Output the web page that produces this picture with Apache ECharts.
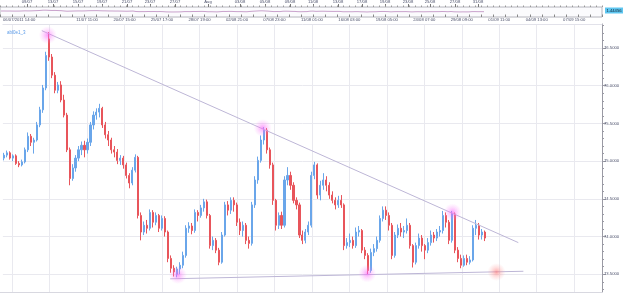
<!DOCTYPE html>
<html>
<head>
<meta charset="utf-8">
<script src="https://cdn.jsdelivr.net/npm/echarts@6.0.0/dist/echarts.min.js"></script>
<style>
  html, body { margin: 0; padding: 0; background: #fff; }
  #chart { width: 625px; height: 295px; }
</style>
</head>
<body>
<div id="chart"></div>
<script>
// candles: [open, close, low, high]
var candles = [
  [75.04,75.08,75.01,75.11],[75.08,75.11,75.05,75.14],[75.11,75.04,75.02,75.13],[75.04,75.07,75.00,75.09],
  [75.07,74.97,74.95,75.09],[74.97,74.95,74.92,75.00],[74.95,74.99,74.93,75.02],[74.99,75.15,74.97,75.18],
  [75.15,75.33,75.12,75.38],[75.33,75.25,75.20,75.36],[75.25,75.28,75.10,75.31],[75.28,75.48,75.26,75.52],
  [75.48,75.68,75.45,75.72],[75.68,75.97,75.64,76.01],[75.97,76.40,75.94,76.45],[76.62,76.38,76.33,76.71],
  [76.38,76.14,76.10,76.42],[76.14,75.94,75.90,76.18],[75.94,76.01,75.90,76.05],[76.01,75.81,75.78,76.06],
  [75.81,75.61,75.58,75.88],[75.61,75.15,75.12,75.64],[75.15,74.77,74.68,75.18],[74.77,74.91,74.74,74.96],
  [74.91,75.04,74.86,75.08],[75.04,75.15,75.00,75.20],[75.15,75.21,75.08,75.26],[75.21,75.15,75.05,75.27],
  [75.15,75.25,75.10,75.30],[75.25,75.48,75.20,75.52],[75.48,75.61,75.42,75.66],[75.61,75.65,75.55,75.70],
  [75.65,75.70,75.58,75.76],[75.70,75.48,75.44,75.72],[75.48,75.35,75.30,75.52],[75.35,75.28,75.20,75.40],
  [75.28,75.15,75.10,75.31],[75.15,75.12,75.05,75.20],[75.12,75.01,74.96,75.16],[75.01,75.04,74.95,75.08],
  [75.04,74.95,74.90,75.07],[74.95,74.81,74.77,74.98],[74.81,74.71,74.64,74.84],[74.71,74.88,74.68,74.92],
  [74.88,75.05,74.85,75.09],[75.05,74.28,74.24,75.07],[74.28,74.06,73.95,74.32],[74.06,74.15,74.02,74.20],
  [74.15,74.11,74.04,74.22],[74.11,74.32,74.08,74.36],[74.32,74.19,74.12,74.35],[74.19,74.28,74.15,74.32],
  [74.28,74.11,74.06,74.30],[74.11,74.24,74.08,74.28],[74.24,74.06,74.00,74.27],[74.06,73.71,73.66,74.08],
  [73.71,73.58,73.52,73.75],[73.58,73.53,73.47,73.62],[73.50,73.57,73.46,73.60],[73.57,73.62,73.50,73.66],
  [73.62,73.75,73.58,73.80],[73.75,74.11,73.72,74.15],[74.11,74.14,74.05,74.19],[74.14,74.08,74.03,74.18],
  [74.08,74.32,74.05,74.36],[74.32,74.28,74.20,74.35],[74.28,74.38,74.25,74.42],[74.38,74.46,74.33,74.50],
  [74.46,74.28,74.24,74.49],[74.28,73.88,73.84,74.30],[73.88,73.95,73.82,74.00],[73.95,73.82,73.78,73.98],
  [73.82,73.66,73.62,73.85],[73.66,74.02,73.64,74.06],[74.02,74.42,74.00,74.46],[74.42,74.35,74.28,74.47],
  [74.35,74.48,74.30,74.52],[74.48,74.42,74.33,74.52],[74.42,74.19,74.14,74.45],[74.19,74.08,74.02,74.24],
  [74.08,74.15,74.00,74.20],[74.15,73.95,73.90,74.18],[73.95,73.91,73.84,74.00],[73.91,74.42,73.88,74.46],
  [74.42,74.75,74.38,74.80],[74.75,75.01,74.70,75.06],[75.01,75.28,74.98,75.34],[75.28,75.41,75.22,75.45],
  [75.41,75.15,75.10,75.44],[75.15,74.95,74.90,75.18],[74.95,74.48,74.42,74.98],[74.48,74.15,74.08,74.50],
  [74.15,74.28,74.10,74.32],[74.28,74.15,74.10,74.33],[74.15,74.75,74.12,74.80],[74.75,74.81,74.68,74.92],
  [74.81,74.68,74.62,74.86],[74.68,74.48,74.44,74.72],[74.48,74.42,74.36,74.52],[74.42,74.02,73.98,74.45],
  [74.02,73.95,73.90,74.08],[73.95,74.06,73.91,74.10],[74.06,74.15,74.02,74.20],[74.15,74.81,74.12,74.86],
  [74.81,74.95,74.76,74.99],[74.95,74.55,74.50,74.97],[74.55,74.68,74.48,74.74],[74.68,74.75,74.62,74.84],
  [74.75,74.68,74.60,74.80],[74.68,74.55,74.50,74.72],[74.55,74.48,74.44,74.60],[74.48,74.42,74.36,74.52],
  [74.42,74.48,74.38,74.54],[74.48,74.42,74.38,74.55],[74.42,73.88,73.82,74.44],[73.88,73.92,73.84,73.98],
  [73.92,73.95,73.86,74.04],[73.95,73.88,73.84,74.00],[73.88,74.06,73.85,74.12],[74.06,74.08,74.00,74.14],
  [74.08,73.82,73.78,74.10],[73.82,73.75,73.70,73.86],[73.75,73.55,73.50,73.78],[73.55,73.79,73.52,73.84],
  [73.79,73.84,73.74,73.90],[73.84,73.95,73.80,74.00],[73.95,74.24,73.92,74.28],[74.24,74.35,74.20,74.40],
  [74.35,74.28,74.22,74.40],[74.28,74.15,74.08,74.32],[74.15,73.75,73.70,74.18],[73.75,74.02,73.72,74.06],
  [74.02,74.11,73.98,74.16],[74.11,74.06,74.00,74.18],[74.06,74.08,73.98,74.14],[74.08,74.15,74.04,74.24],
  [74.15,73.88,73.84,74.18],[73.88,73.66,73.59,73.90],[73.66,73.88,73.63,73.92],[73.88,73.98,73.84,74.04],
  [73.98,73.88,73.80,74.02],[73.88,73.82,73.70,73.90],[73.82,73.92,73.78,73.98],[73.92,74.02,73.88,74.08],
  [74.02,73.98,73.92,74.06],[73.98,74.06,73.94,74.10],[74.06,74.08,74.00,74.14],[74.08,74.28,74.04,74.34],
  [74.28,74.19,74.12,74.32],[74.19,73.95,73.90,74.22],[73.95,74.30,73.92,74.34],[74.30,73.82,73.78,74.32],
  [73.82,73.71,73.66,73.86],[73.71,73.62,73.58,73.76],[73.62,73.71,73.60,73.75],[73.71,73.66,73.62,73.76],
  [73.66,73.69,73.63,73.74],[73.69,74.11,73.67,74.15],[74.11,74.15,74.02,74.22],[74.15,74.02,73.96,74.18],
  [74.02,74.06,73.96,74.10],[74.06,73.98,73.94,74.08]
];

// trend lines and pivots: [candle index, price]
var upperLine = [[12.7, 76.73], [172.3, 73.92]];
var lowerLine = [[55.7, 73.44], [174, 73.54]];
var pivots = [[14.7, 76.67], [86.7, 75.44], [58.3, 73.49], [121.7, 73.51], [150.3, 74.32]];
var lastPivot = [[165, 73.53]];

// tick labels
var xLabels = ['06/07/2011 14:00', '', '11/07 11:00', '20/07 15:00', '25/07 17:00', '28/07 19:00',
  '02/08 21:00', '07/08 23:00', '11/08 01:00', '16/08 03:00', '19/08 05:00', '24/08 07:00',
  '29/08 09:00', '01/09 11:00', '04/09 13:00', '07/09 15:00'];
var yTicks = [73.5, 74.0, 74.5, 75.0, 75.5, 76.0, 76.5];
var navDates = ['09/07', '13/07', '15/07', '19/07', '21/07', '23/07', '27/07', 'Aug', '03/08', '05/08',
  '09/08', '11/08', '13/08', '17/08', '19/08', '23/08', '25/08', '27/08', '31/08'];
var navDatePos = [27, 53, 78, 102, 127, 150, 175, 208, 240, 265, 290, 313, 338, 362, 385, 408, 430, 455, 478];

// layout: one grid step = 37.65px, first grid line at 9.3px, one candle = 3px
var STEP = 37.65, OFF = 9.3, SLOT = 3;
function toU(i) { return (1 + SLOT * i - OFF) / STEP; }
var xTickVals = xLabels.map(function (s, k) { return k; });
var yMinorVals = [];
for (var m = 733; m <= 768; m++) { if (m % 5 !== 0) yMinorVals.push(m / 10); }

var candleData = candles.map(function (c, i) { return [toU(i), c[0], c[1], c[2], c[3]]; });
var navLine = candles.map(function (c, i) { return [1 + SLOT * i, c[1]]; });
function mapPts(arr) { return arr.map(function (p) { return [toU(p[0]), p[1]]; }); }

var txt = '#4a4f6a';
var font = 'Liberation Sans';
var xMin = -OFF / STEP, xMax = (602 - OFF) / STEP;
var yMin = 73.265, yMax = 76.818;

var myChart = echarts.init(document.getElementById('chart'));
myChart.setOption({
    animation: false,
    title: {
        text: 'abl0e1_3',
        left: 2, top: 25,
        textStyle: { fontSize: 4.5, fontWeight: 'normal', color: '#5b9be8', fontFamily: font }
    },
    grid: [
        { left: 0, right: 23, top: 24, bottom: 3 },
        { left: 0, right: 23, top: 7, height: 10, show: true, borderColor: '#b4b4bc', borderWidth: 1, backgroundColor: '#fbfbfd' },
        { left: 0, right: 23, top: 24, bottom: 3 }
    ],
    xAxis: [
        {
            type: 'value', gridIndex: 0, min: xMin, max: xMax,
            axisLine: { show: false, onZero: false },
            axisTick: { show: false, customValues: xTickVals },
            axisLabel: { show: false, customValues: xTickVals },
            splitLine: { show: true, lineStyle: { color: '#e9e9ef', width: 1 } }
        },
        {
            type: 'value', gridIndex: 0, position: 'top', min: xMin, max: xMax,
            axisLine: { show: true, onZero: false, lineStyle: { color: '#e2e2ea' } },
            axisTick: { show: false, customValues: xTickVals }, splitLine: { show: false },
            axisLabel: {
                customValues: xTickVals,
                margin: 2, fontSize: 4.2, color: txt, fontFamily: font,
                formatter: function (v) {
                    var k = Math.round(v);
                    var s = xLabels[k] || '';
                    return k === 0 ? '{first|' + s + '}' : s;
                },
                rich: { first: { fontSize: 4.2, color: txt, fontFamily: font, padding: [0, 0, 0, 14] } }
            }
        },
        {
            type: 'value', gridIndex: 1, position: 'top', min: 0, max: 602,
            axisLine: { show: false }, splitLine: { show: false },
            axisTick: { show: true, customValues: navDatePos, length: 3, lineStyle: { color: '#777' } },
            axisLabel: {
                customValues: navDatePos, margin: 3, fontSize: 4.2, color: txt, fontFamily: font,
                formatter: function (v) { return navDates[navDatePos.indexOf(v)] || ''; }
            }
        },
        {
            type: 'value', gridIndex: 1, position: 'top', min: 0, max: 600, interval: 6,
            axisLine: { show: false }, splitLine: { show: false }, axisLabel: { show: false },
            axisTick: { show: true, length: 1.5, lineStyle: { color: '#999' } }
        },
        {
            type: 'value', gridIndex: 1, position: 'bottom', min: 0, max: 600, interval: 12,
            axisLine: { show: false }, splitLine: { show: false }, axisLabel: { show: false },
            axisTick: { show: true, inside: true, length: 2.5, lineStyle: { color: '#888' } }
        },
        {
            type: 'value', gridIndex: 2, min: xMin, max: xMax, show: false
        }
    ],
    yAxis: [
        {
            type: 'value', gridIndex: 0, position: 'right', min: yMin, max: yMax,
            axisLine: { show: true, onZero: false, lineStyle: { color: '#9a9aa4' } },
            axisTick: { show: true, customValues: yTicks, length: 4, lineStyle: { color: '#9a9aa4' } },
            splitLine: { show: true, lineStyle: { color: '#e9e9ef' } },
            axisLabel: {
                customValues: yTicks,
                margin: 2, fontSize: 4.2, color: txt, fontFamily: font,
                formatter: function (v) { return v.toFixed(4); }
            }
        },
        {
            type: 'value', gridIndex: 1, min: 65.5, max: 81.5, show: false
        },
        {
            type: 'value', gridIndex: 2, position: 'right', min: yMin, max: yMax,
            axisLine: { show: false, onZero: false }, splitLine: { show: false }, axisLabel: { show: false },
            axisTick: { show: true, customValues: yMinorVals, length: 2, lineStyle: { color: '#9a9aa4' } }
        }
    ],
    tooltip: { show: false },
    series: [
        {
            type: 'candlestick', xAxisIndex: 0, yAxisIndex: 0,
            barWidth: 1.6,
            encode: { x: 0, y: [1, 2, 3, 4] },
            itemStyle: {
                color: '#6aa6ea', color0: '#e8555b',
                borderColor: '#6aa6ea', borderColor0: '#e8555b', borderWidth: 1
            },
            data: candleData
        },
        {
            type: 'line', xAxisIndex: 0, yAxisIndex: 0, z: 3, symbol: 'none',
            lineStyle: { color: '#bdb6d6', width: 1 }, data: mapPts(upperLine)
        },
        {
            type: 'line', xAxisIndex: 0, yAxisIndex: 0, z: 3, symbol: 'none',
            lineStyle: { color: '#bdb6d6', width: 1 }, data: mapPts(lowerLine)
        },
        {
            type: 'scatter', xAxisIndex: 0, yAxisIndex: 0, z: 4, symbolSize: 18,
            itemStyle: {
                color: new echarts.graphic.RadialGradient(0.5, 0.5, 0.5, [
                    { offset: 0, color: 'rgba(250,90,250,0.75)' },
                    { offset: 0.5, color: 'rgba(250,120,250,0.35)' },
                    { offset: 1, color: 'rgba(250,140,250,0)' }
                ])
            },
            data: mapPts(pivots)
        },
        {
            type: 'scatter', xAxisIndex: 0, yAxisIndex: 0, z: 4, symbolSize: 18,
            itemStyle: {
                color: new echarts.graphic.RadialGradient(0.5, 0.5, 0.5, [
                    { offset: 0, color: 'rgba(255,110,110,0.75)' },
                    { offset: 0.5, color: 'rgba(255,140,140,0.35)' },
                    { offset: 1, color: 'rgba(255,160,160,0)' }
                ])
            },
            data: mapPts(lastPivot)
        },
        {
            type: 'line', xAxisIndex: 2, yAxisIndex: 1, z: 22, symbol: 'none',
            lineStyle: { color: '#c9a2cc', width: 1 }, data: navLine
        }
    ],
    graphic: {
        elements: [
            { type: 'rect', z: 30, shape: { x: 605, y: 7.5, width: 18, height: 6 }, style: { fill: '#5ec6f0' } },
            { type: 'text', z: 31, x: 614, y: 10.6, style: { text: '1.44456', fontSize: 4.2, fontFamily: font, fill: '#123', align: 'center', verticalAlign: 'middle' } },
            { type: 'line', z: 10, shape: { x1: 0, y1: 292.5, x2: 602, y2: 292.5 }, style: { stroke: '#d8d8e0', lineWidth: 1 } }
        ]
    }
});
</script>
</body>
</html>
